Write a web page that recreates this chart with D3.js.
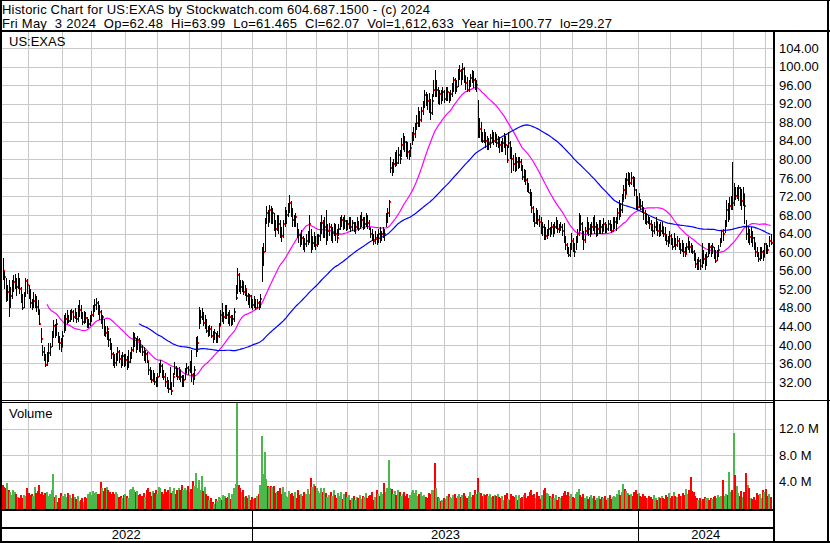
<!DOCTYPE html>
<html><head><meta charset="utf-8">
<script src="https://cdn.jsdelivr.net/npm/d3@7"></script>
<style>
body{margin:0;background:#fff}
svg{display:block}
text{font-family:"Liberation Sans",Arial,sans-serif;fill:#000}
</style>
</head><body><svg id="c" width="830" height="543"></svg>
<script>
const symbolLabel = "US:EXAS";
const volumeLabel = "Volume";
const headerLine1 = "Historic Chart for US:EXAS by Stockwatch.com 604.687.1500 - (c) 2024";
const headerLine2 = "Fri May  3 2024  Op=62.48  Hi=63.99  Lo=61.465  Cl=62.07  Vol=1,612,633  Year hi=100.77  lo=29.27";

const closes = [
56,54.7,50.3,51.5,48.3,50.5,52.2,53.5,54,52.5,
54,52,50,48,50.5,53.8,53,51,49,48.4,
49.5,50,48.2,47.5,44.5,41.3,38.5,37.2,35.7,37,
38.2,39.5,42,44,42.6,44.5,41.5,40.5,39.6,42,
43.2,45.5,46,45.2,46.5,47,46,46.7,45.5,46.2,
47.5,46.5,45,46.5,45.8,44,44.5,45.8,46.5,47.5,
48.5,49,48,47,45.5,46,43.5,42.5,43.5,41,
39.5,38,36.8,36,37,38.5,37,36,37.5,36.5,
36.8,35.5,36.4,37.5,39,40.4,41.5,40,41,40.5,
39.5,38.5,37,38,36.5,34.5,33.5,32.5,33.5,32.1,
31.5,33,34.5,35.5,34,33,32,31.4,30.5,31.5,
30,33,35,34.2,33,34.5,33,31.8,32.5,34,
35,34.5,35.5,33.5,32.9,34.5,39.5,40.5,44.7,46,
46.5,44.7,45,43,42.6,43.5,42,41.5,42.5,41,
42,44,46.5,45.8,46,47.5,46.5,45.5,46,44.7,
45.5,47,50.1,55,53,52.5,53.5,51.5,52,50.5,
49.7,50.5,49,48.5,49.5,48,49,48.5,50,58.7,
60,67.1,68.4,66.5,69,67.5,68.5,66,65,67,
66,64.8,63.5,66,67.5,68,69.5,70.6,68.5,67,
66,67.5,64.5,63.7,62.5,63,62,61.7,62.5,63.5,
66,61.5,62,63,61.5,62.5,63.5,65,66.3,64.5,
65.5,63,64.5,65.5,64,64.1,65.5,64,63,65,
66.5,67,65.5,66.8,65,66,67,65.5,66.3,64.5,
65.5,66.5,65,66.3,67,65.3,66,67.5,66.3,65.3,
64,63.7,62.5,63,62.5,64,63,63.8,64.5,64,
67.5,68.5,70.9,78.1,77.5,79,80,79.2,81,80,
83,84.5,83.7,82,81.5,80.9,82.5,84.9,85.5,86.5,
87.8,89.5,88.5,90.5,91.5,93.9,93.5,92.5,91.5,90,
92.5,95,94.5,95,93,94,93.5,94.5,93,93.5,
94.5,93,94,95.5,97.1,96,95.5,98.5,99,97.5,
99.5,98,96.5,95,96,97.5,98.5,97,95.5,96,
85,86.5,85,84,85.5,84,82.7,83.5,84.5,85.5,
84,85,83.5,84.5,83,82,83.5,84.5,83,79.8,
83.5,82,80,79,78.4,79.5,78.5,79.5,78,76.2,
77,75.5,74,72.8,71.5,69.5,68,66.3,68,67,
66.5,65,65.5,64.5,63.5,64,65,64,65.5,64.5,
65.5,66.5,65,64.9,65.5,64.5,63,61.5,60.5,59.4,
61,62.5,61.5,60,62.5,64,67.4,66,64,62.6,
64.5,66,65,64,65.5,66.5,65.5,64.5,65,66,
65.5,64.5,66,65.5,65,66,65.5,64.5,65.5,66.5,
67,68.5,70,69,71,73.4,72.5,75.5,76.5,75,
76,74.5,73.4,70,69.8,71,70,69.5,68.5,67.5,
66.5,67,66,65.8,64.5,65.5,66.5,64.5,65,64.5,
65.5,64,63.5,62.5,62,63.5,62.5,61.1,62,61.5,
62.5,61,60.5,61.5,60,59.5,61,62,61,60.5,
60,59,57.5,56.6,58,57,59.8,58.5,57.5,59,
61.8,61,60,61,60,58,59.5,60.5,62.5,64.5,
64,66,69.1,68,70,71,70.6,73,72,73.5,
73.8,72,71,72.5,70,64,64.5,63.3,64,63,
62,60,59.4,58.5,59.5,60,59,61.8,61,60.5,
62.5,62.07];

const highs = [
58.7,56,54.4,53,54,52.5,54,55,55.3,54.5,
55.5,54.5,52.5,51,51.5,54.5,54.2,53,52,50,
51.5,51,50.5,49.7,47.5,43.6,40,39.5,38,38.5,
40.4,40.5,43,45.3,44.5,45.5,42.8,42,41.5,43,
46.5,46.9,47.5,46.5,47.5,47.8,47.5,48,47,48.5,
49.7,48.5,47,47.3,47,46,45.5,46.5,47.3,48.5,
50,50.1,49.5,48.5,47.5,46.5,45.5,44,44,43,
41.5,40.4,38.5,38,38.2,39.5,39,37.8,38.5,38,
38,37.5,39,38.5,39.5,42.8,42.5,41.5,42,41.5,
41,40,39.5,39,38.5,36.5,35.2,34.5,34.6,34,
33,34,36,36.8,35.8,34.5,34,33,32.5,35.2,
32,34,36.3,35.5,35,35.2,34.5,33.5,33.5,35,
36,35.5,36.5,38.9,34,35.5,41.7,42,48.2,47.5,
48,47,46.5,45.5,44,44.3,44,43,43.5,42.5,
43,44.8,47.5,49,47,48.5,48.6,47,47.5,46.5,
46.5,48,53,56.6,55.5,54,54,53.5,53,52,
51.2,51,50.8,50,50.5,50,50,49.5,51,61,
62,67.4,70,69,70.2,70,69.5,68.5,67,68,
68,67,65.5,67,69.7,69,70.5,72.3,71,69.5,
68,68.5,66.3,65,64,64.8,63.5,63,64,64.5,
68,65,63.5,64.3,63.5,64,64,66.5,68,67,
67.5,69,66,66.3,66,65.5,66.3,66,65,66,
67.5,68,67.5,68,67,67,67.6,67.5,67,66.5,
66.5,67.6,66.8,68,68.6,67.5,67.5,68.5,68,67,
65.2,65,64,64.5,64,65,65.4,64.5,65.4,65,
68.5,69.5,71.2,80.5,79.5,80,81.5,82,82.7,82,
84.5,85.7,85,84,83.8,82,83.5,86,87,87.8,
89.5,91.3,90.5,91.3,92.5,95,94.5,94,94.3,93,
94,97,99.3,97,95.6,95,95,95.6,95,95.6,
95.5,94.5,95,96.5,97.8,97.5,97,99.5,100.3,99.5,
100.77,100,98,97.8,97,98.5,99.3,99,97.5,97,
92.8,88.9,88,86,86.5,85.9,85,84.5,85.5,86.3,
86,86,85.5,85,84.8,84,84.5,85.7,85,83,
85.9,84,82.7,81,81.4,80.5,80.5,80.5,80,78.8,
78,77.7,76,75,73.5,72.9,70,68.5,69.5,69,
68,67.6,66.5,66,65.5,65,66.9,65.5,66.5,66,
66.5,67.6,67,66,66.5,66,66.3,63.5,62,61,
62,64.1,63,62,63.5,65,68.4,68,66.5,64.5,
65.5,67.6,66.5,66,66.5,67.5,68,66.5,66,67,
67,66,67.4,66.5,66,67,67,66,67.6,67.6,
67.6,69.5,71.2,70.5,72.5,74.5,76,77,77.3,77,
77.3,76.5,76.2,73.5,72,72.7,71.5,71,69.7,69,
68.5,68,67.6,67,66,66.5,67.5,66.5,66,66.5,
66.5,65.5,65.4,64,63.5,64.5,64,63,64.1,63,
63.5,63,62,62.6,62,61,62,63.3,62.5,62,
61.5,60.5,59.8,58.5,59,58.5,62,60.5,59.5,60,
62,62,61.5,62,61.1,60.5,60.5,61.5,63,64.8,
65,67,71.2,70.5,71.9,72,79.4,75,74,74,
74.5,74,73.5,74,72.5,67,65.4,65,65.4,64.5,
63.3,62,61,60,61.1,61,60.5,62,62,61.5,
63.5,63.99];

const lows = [
54,52,49.2,49.5,46,48,50,51.5,52,50.5,
52,51,49,47.5,48,50.3,51,50,48,47.5,
48,48,47,46.5,44.3,40.5,37.5,36.5,35.2,35.5,
36.3,37.5,39.5,41.5,41.5,42,40.5,39,38.5,39.5,
42.6,43,44.5,44.7,45,45.3,45,45.5,44.7,45,
46,45.5,44.3,44.5,44.8,43.6,43.6,44,45,46,
47,47.5,46.5,45.4,44.5,43.5,42,41.7,41,39.5,
39,37,35.5,35,35.5,36.5,36,35,35.5,35.2,
35.5,34.6,35,36,37,38.5,39.5,38.3,39,38.5,
38.3,37.5,36.5,36.2,36,33.5,32.5,31.8,32,31.3,
30.9,31,33,34,32.8,32.4,31,30.5,29.6,30.2,
29.27,31,33.5,33,32.5,32.5,32,31,30.9,32.5,
34,33.5,34,32,31.4,32.5,37.4,38.5,43.5,44.5,
45.4,44,43.5,42.5,41.7,42,41.5,40.4,41,40.4,
40.5,41.5,44,45,44.5,45.5,45.5,44.5,44,44,
44.2,45,49.7,51,51.5,51,51.5,50.8,50.5,49.5,
48.5,48,48,47.5,48,47.5,47.8,47.5,48,53.5,
57,60,66,65.4,66.5,66,66,64.5,63.3,64.5,
64,63,62.2,63,65.5,66,67.6,68.5,67.5,65.4,
65.4,65.5,63,62,61.1,61.5,60.5,60,61,61.5,
62,59.8,60.5,61,60.5,61,61.5,62.5,64,63,
63,61.5,62.5,63.5,62.5,62,63.5,62.5,62,63.5,
64.8,65.5,64.8,65,64.5,64.8,65,64.3,64.5,64.3,
64,65,64.5,65,65.5,64.8,65,65.5,65,64.8,
63,62.5,61.5,61.8,61.5,62,62,62.5,63,62.5,
65.5,66.3,67.5,77,76.5,77,78.4,78.5,79,79,
80.5,82,81.5,80.5,80,79.8,80.5,83.1,84,84.5,
86.3,87,87,88,89.5,91,91.5,90.6,90,88.5,
89.5,93.4,93.5,93.5,92,91.7,92,92.5,92.1,92.5,
92.5,92.1,92.5,93.4,94.5,94,94.5,95.6,97,96,
97,96.5,95,94.5,94.5,95.5,96.5,95.4,95,94.5,
84.5,84.5,83.7,83.5,83.5,82.5,82,82,82.5,83.5,
83,83.5,82.7,82.5,81.4,81.5,81.5,82.5,81,79.2,
82.5,80,77,77.5,77.3,77.5,78,78.1,77.5,75.5,
75.1,74.5,73,72.7,70,68.5,66.5,65.4,66,65.8,
65.5,64,63.5,62.6,62.6,62.8,63.5,63.3,64,63.3,
64,65,64.1,64.1,64.5,63.5,62,60.5,59.5,59,
59,60.5,60,59,60.5,62,63.5,64.5,62.6,60.5,
62,64,63.5,63.3,64,64.5,64,63.3,63.5,64,
64,64,64.5,64.1,64.1,64.5,64.5,64.1,64.3,65,
64.5,66,67,67.5,68.5,71.2,71.5,72.5,74.5,74.1,
74.5,74,72,69.1,69.1,69.5,69.1,68.5,67,66,
65.8,66,65,64.5,63.3,64,64.5,63.5,63.3,63.5,
64,63.3,62.5,61.5,61.1,62,61.5,60.5,61,60.5,
61,60.5,59.5,60,59,59,59.5,60.5,59.8,59.8,
59.5,58,56.5,56.1,56.1,56.2,56.5,57.5,56.1,57,
59,59.5,59,59.5,58.5,57.6,58,59,61.1,62,
62.5,64.1,65.5,66.5,67,69,69.1,70,71.2,71.5,
71,70,69.1,70,66,62.6,62,61.5,62,61.1,
60.5,59,59,57.8,58,58.5,58,59,59.5,59.5,
61,61.465];

// volume in millions of shares
const volumes = [
3.4,3.2,3.0,3.7,2.7,2.4,1.9,2.7,2.4,2.0,
1.6,1.4,1.9,1.5,1.9,1.8,2.9,2.2,1.9,2.0,
1.8,3.1,2.2,2.5,3.4,2.0,2.3,1.9,2.2,2.4,
1.8,2.0,2.6,5.1,1.6,1.9,0.9,1.5,2.2,1.7,
1.8,2.0,1.6,2.2,1.9,1.5,2.0,1.6,1.3,1.7,
1.0,1.2,1.5,0.9,1.6,1.4,2.0,2.3,1.9,2.5,
2.2,2.4,2.0,2.1,3.9,3.0,2.5,2.9,3.2,2.6,
2.4,2.1,2.3,2.0,2.4,2.0,1.6,1.8,1.5,1.9,
2.0,1.7,1.5,2.6,2.8,3.1,2.7,2.3,2.5,1.9,
2.1,1.8,2.2,1.6,2.6,2.9,2.4,1.7,2.5,2.2,
2.6,2.1,3.2,2.9,2.4,2.0,2.8,2.3,2.6,3.1,
2.2,2.5,2.9,2.0,2.6,3.0,2.7,3.4,2.6,2.9,
2.6,3.3,2.4,2.8,4.1,3.3,5.3,3.0,4.2,2.6,
4.8,2.5,3.1,2.0,1.8,1.2,1.4,0.9,0.6,1.3,
1.0,1.6,1.4,1.2,1.9,1.8,1.4,1.6,2.2,1.3,
2.1,2.9,3.6,16.5,3.4,2.9,2.4,2.6,1.6,1.8,
1.5,1.9,1.2,1.6,1.3,1.5,1.7,2.0,3.4,10.9,
5.1,8.4,4.4,3.3,3.2,3.3,3.1,3.3,2.2,2.4,
2.5,3.0,2.1,3.1,2.3,1.8,1.6,2.5,2.0,2.2,
1.8,2.3,1.5,2.6,1.9,2.1,1.7,2.4,2.0,2.8,
2.1,4.5,3.1,3.6,3.3,2.9,2.5,2.2,2.9,2.4,
3.0,2.2,1.6,1.9,2.4,1.8,2.7,1.9,1.5,2.2,
1.7,2.4,1.3,2.0,2.4,1.6,1.9,1.1,1.4,1.8,
1.2,1.6,1.5,1.9,1.3,1.7,1.6,2.2,1.4,1.8,
1.9,2.3,1.2,1.6,2.6,2.0,1.8,2.3,2.1,3.7,
2.4,2.9,7.2,3.0,2.8,2.1,2.5,1.9,2.7,2.3,
1.8,2.0,2.4,1.7,2.1,1.5,1.9,2.3,2.6,2.2,
2.6,1.8,2.1,2.4,1.7,1.9,1.6,1.5,2.2,2.0,
2.6,2.7,6.8,3.0,1.6,1.4,1.0,1.2,1.5,1.3,
1.7,2.0,1.6,1.4,1.9,2.1,1.5,1.8,2.0,1.6,
1.9,2.2,1.7,1.5,1.8,2.3,1.6,1.9,2.6,2.0,
4.5,2.4,2.2,1.8,2.1,1.9,2.1,1.7,2.0,1.6,
1.8,1.9,1.7,2.0,1.6,1.5,1.8,1.2,1.9,2.2,
1.3,1.1,2.0,1.7,1.6,1.9,1.2,1.9,1.4,1.6,
1.9,2.2,1.5,1.8,2.4,2.6,1.9,2.0,1.4,2.3,
1.7,1.3,1.9,2.6,2.9,2.2,2.0,1.8,1.6,2.1,
1.5,1.9,1.2,1.6,1.4,1.8,2.2,2.5,1.9,2.3,
1.7,2.1,1.6,1.4,2.0,2.4,2.8,1.9,1.6,2.0,
1.5,1.8,1.3,1.6,1.9,1.4,1.7,1.2,1.5,1.8,
1.3,1.6,1.4,1.7,1.2,1.5,1.9,1.3,1.6,1.8,
1.6,2.1,2.6,1.9,2.4,3.6,2.8,2.5,2.2,1.9,
2.0,1.7,2.3,2.6,2.1,2.2,1.8,1.6,2.0,1.7,
1.5,1.4,1.8,1.6,1.3,1.9,1.5,1.2,1.6,1.4,
1.8,1.5,1.3,1.9,1.6,2.2,1.4,1.7,2.4,1.8,
1.6,2.0,1.7,1.8,2.2,1.9,2.8,2.1,2.6,4.6,
2.5,2.3,1.7,1.5,1.2,1.4,1.0,1.3,1.6,1.5,
1.4,1.2,1.5,1.3,1.6,1.7,1.4,1.9,1.6,1.8,
4.2,1.8,2.0,1.9,5.4,2.4,2.7,11.4,4.9,3.3,
2.2,1.8,2.5,1.6,2.4,5.3,3.4,3.0,1.5,1.3,
1.6,1.2,2.2,1.9,2.0,1.5,2.6,2.3,2.8,1.8,
2.1,1.61];

// bar index of the first trading day of each month (Jun 2022 .. May 2024)
const monthStarts = [18,40,59,81,102,123,144,164,186,206,226,246,268,289,311,332,352,373,395,416,437,457,478,499];
const yearStarts = [0,164,416];
const yearLabels = ["2022","2023","2024"];
const priceTicks = [32,36,40,44,48,52,56,60,64,68,72,76,80,84,88,92,96,100,104];
const volumeTicks = [4,8,12];
const maPeriods = [30,90];
const maColors = ["#ff00ff","#0000ff"];

const svg = d3.select("#c");
const W = 830, H = 543;
const plotL = 2, plotR = 773, priceTop = 32, priceBot = 400, volTop = 402, volBot = 509.5;
const n = closes.length;

const x = d3.scaleLinear().domain([0, n - 1]).range([2.5, 770.5]);
const y = d3.scaleLinear().domain([32, 104]).range([382, 48]);
const yv = d3.scaleLinear().domain([0, 12]).range([507.5, 428.8]);

svg.append("rect").attr("width", W).attr("height", H).attr("fill", "#fff");

const grid = svg.append("g").attr("shape-rendering", "crispEdges").attr("stroke", "#c8c8c8").attr("stroke-width", 1);
monthStarts.forEach(i => {
  const xx = Math.round(x(i)) - 1.5;
  grid.append("line").attr("x1", xx).attr("x2", xx).attr("y1", priceTop).attr("y2", priceBot);
  grid.append("line").attr("x1", xx).attr("x2", xx).attr("y1", volTop).attr("y2", volBot);
});
priceTicks.forEach(t => {
  const yy = Math.round(y(t)) + 0.5;
  grid.append("line").attr("x1", plotL).attr("x2", plotR).attr("y1", yy).attr("y2", yy);
});
volumeTicks.forEach(t => {
  const yy = Math.round(yv(t)) + 0.5;
  grid.append("line").attr("x1", plotL).attr("x2", plotR).attr("y1", yy).attr("y2", yy);
});

// moving averages (drawn under the bars)
const maG = svg.append("g");
maPeriods.forEach((p, k) => {
  const ma = closes.map((c, i) => i < p - 1 ? null : d3.mean(closes.slice(i - p + 1, i + 1)));
  const line = d3.line().defined(d => d != null).x((d, i) => x(i)).y(d => y(d));
  maG.append("path").datum(ma).attr("d", line).attr("fill", "none")
    .attr("stroke", maColors[k]).attr("stroke-width", 1.2);
});

// price bars: black high-low line, red close tick
const bars = svg.append("g").attr("shape-rendering", "crispEdges");
const barG = bars.selectAll("g").data(closes).join("g");
barG.append("rect")
  .attr("x", (d, i) => Math.round(x(i)))
  .attr("y", (d, i) => Math.round(y(highs[i])))
  .attr("width", 1)
  .attr("height", (d, i) => Math.max(1, Math.round(y(lows[i])) - Math.round(y(highs[i]))))
  .attr("fill", "#000");
barG.append("rect")
  .attr("x", (d, i) => Math.round(x(i)) + 1)
  .attr("y", d => Math.round(y(d)) - 1)
  .attr("width", 1).attr("height", 2)
  .attr("fill", "#ff0000");

// volume bars
const vbars = svg.append("g").attr("shape-rendering", "crispEdges");
vbars.selectAll("rect").data(volumes).join("rect")
  .attr("x", (d, i) => Math.round(x(i)) - 1)
  .attr("y", d => Math.max(volTop + 1, Math.round(yv(d))))
  .attr("width", 2)
  .attr("height", d => Math.round(yv(0)) + 1 - Math.max(volTop + 1, Math.round(yv(d))))
  .attr("fill", (d, i) => i === 0 ? "#ff0000" : closes[i] > closes[i - 1] ? "#4cb84c" : closes[i] < closes[i - 1] ? "#ff0000" : "#a8a8a8");

// axes
const fontSize = 13;
const ax = svg.append("g").attr("transform", "translate(775,0)")
  .call(d3.axisRight(y).tickValues(priceTicks).tickSize(0).tickPadding(4).tickFormat(d3.format(".2f")));
const axv = svg.append("g").attr("transform", "translate(775,0)")
  .call(d3.axisRight(yv).tickValues(volumeTicks).tickSize(0).tickPadding(4).tickFormat(d => d.toFixed(1) + " M"));
[ax, axv].forEach(a => {
  a.select(".domain").remove();
  a.selectAll("text").attr("font-family", "Liberation Sans, Arial, sans-serif").attr("font-size", fontSize).attr("fill", "#000");
});

// texts
svg.append("text").attr("x", 2).attr("y", 13.5).attr("font-size", fontSize)
  .attr("textLength", 428).attr("lengthAdjust", "spacing").text(headerLine1);
svg.append("text").attr("x", 2).attr("y", 27.5).attr("font-size", fontSize)
  .attr("xml:space", "preserve").style("white-space", "pre")
  .attr("textLength", 610).attr("lengthAdjust", "spacing").text(headerLine2);
svg.append("text").attr("x", 9).attr("y", 46).attr("font-size", fontSize).text(symbolLabel);
svg.append("text").attr("x", 9).attr("y", 418).attr("font-size", fontSize).text(volumeLabel);

// year row
const yearBounds = yearStarts.map(i => Math.round(x(i)) - 1.5);
yearBounds[0] = 0;
yearLabels.forEach((lab, k) => {
  const a = yearBounds[k], b = k + 1 < yearBounds.length ? yearBounds[k + 1] : plotR;
  svg.append("text").attr("x", (a + b) / 2).attr("y", 539).attr("text-anchor", "middle").attr("font-size", fontSize).text(lab);
});

// frame
const fr = svg.append("g").attr("stroke", "#000").attr("shape-rendering", "crispEdges").attr("fill", "none");
fr.append("line").attr("x1", 0).attr("x2", W).attr("y1", 0.5).attr("y2", 0.5).attr("stroke-width", 1);
fr.append("line").attr("x1", 1).attr("x2", 1).attr("y1", 0).attr("y2", 542).attr("stroke-width", 2);
fr.append("line").attr("x1", 828).attr("x2", 828).attr("y1", 0).attr("y2", 542).attr("stroke-width", 2);
fr.append("line").attr("x1", 0).attr("x2", W).attr("y1", 541.5).attr("y2", 541.5).attr("stroke-width", 2);
fr.append("line").attr("x1", 0).attr("x2", W).attr("y1", 31).attr("y2", 31).attr("stroke-width", 2);
fr.append("line").attr("x1", 0).attr("x2", W).attr("y1", 400.5).attr("y2", 400.5).attr("stroke-width", 1);
fr.append("line").attr("x1", 0).attr("x2", plotR).attr("y1", 402.5).attr("y2", 402.5).attr("stroke-width", 1);
fr.append("line").attr("x1", 0).attr("x2", plotR).attr("y1", 510).attr("y2", 510).attr("stroke-width", 2);
fr.append("line").attr("x1", 0).attr("x2", plotR).attr("y1", 527.5).attr("y2", 527.5).attr("stroke-width", 2);
fr.append("line").attr("x1", 774).attr("x2", 774).attr("y1", 31).attr("y2", 542).attr("stroke-width", 2);
yearBounds.slice(1).forEach(b => {
  fr.append("line").attr("x1", b).attr("x2", b).attr("y1", 510).attr("y2", 542).attr("stroke-width", 1.5);
});
</script>
</body></html>
